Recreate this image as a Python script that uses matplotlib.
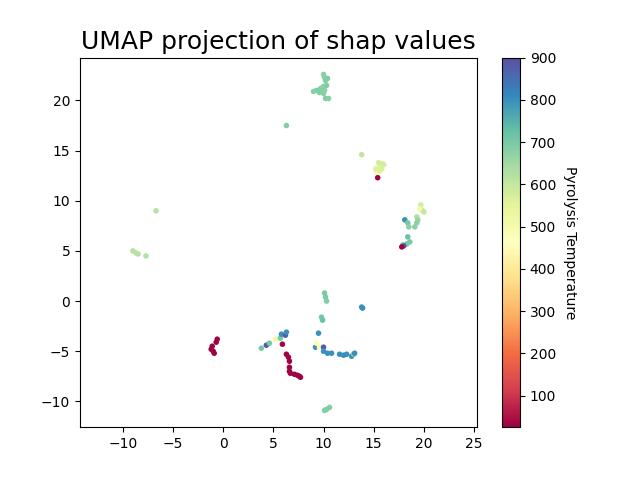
import matplotlib.pyplot as plt

# UMAP embedding coordinates and pyrolysis temperature per sample
umap_x = [
    10.0, 10.1, 10.2, 10.0, 9.7, 9.3, 9.0, 9.6, 10.0, 10.1, 10.3, 10.2, 10.5, 10.4,
    6.3, 13.8,
    15.3, 15.6, 15.9, 15.7, 15.4, 15.4, 15.5, 15.8, 15.2, 16.0, 15.6,
    19.7, 19.8, 19.6, 20.0, 19.3, 19.4, 19.3, 19.1, 18.1, 18.4, 18.5, 18.4, 18.6,
    18.3, 17.9, 18.0, 17.8,
    -6.7, -9.0, -8.7, -8.5, -7.7,
    10.1, 10.2, 10.3, 9.8, 9.9, 9.5,
    13.8, 13.9,
    -0.6, -0.7, -1.1, -1.2, -1.0, -0.9,
    6.3, 6.5, 6.6, 6.6, 6.6, 6.7, 7.1, 7.4, 7.6, 7.7, 5.9,
    3.8, 4.3, 4.6, 5.2, 5.7, 5.8, 6.2, 6.3,
    9.2, 9.3, 9.6, 10.0, 10.0, 10.4, 10.8, 11.6, 12.0, 12.3, 12.8, 13.0, 13.1,
    10.3, 10.6, 10.1,
]
umap_y = [
    22.6, 22.3, 22.0, 21.4, 21.2, 21.0, 20.9, 20.8, 20.7, 21.0, 21.5, 20.2, 20.2, 22.2,
    17.5, 14.6,
    13.0, 13.5, 13.7, 13.3, 12.7, 12.3, 13.8, 13.2, 13.2, 13.6, 13.0,
    9.6, 9.1, 9.2, 8.9, 8.4, 8.1, 7.8, 7.4, 8.1, 7.8, 7.4, 6.4, 5.9,
    5.7, 5.6, 5.5, 5.4,
    9.0, 5.0, 4.8, 4.7, 4.5,
    0.8, 0.4, 0.0, -1.6, -1.9, -3.2,
    -0.6, -0.7,
    -3.8, -4.1, -4.5, -4.8, -5.0, -5.2,
    -5.3, -5.6, -6.0, -6.6, -7.0, -7.2, -7.3, -7.4, -7.5, -7.6, -4.3,
    -4.7, -4.4, -4.2, -3.8, -3.7, -3.3, -3.4, -3.1,
    -4.6, -4.2, -4.6, -4.6, -5.0, -5.2, -5.2, -5.3, -5.4, -5.3, -5.5, -5.3, -5.2,
    -10.8, -10.6, -10.9,
]
temperature = [
    680, 680, 690, 680, 680, 690, 680, 690, 680, 680, 690, 690, 680, 690,
    690, 600,
    570, 560, 570, 550, 480, 30, 580, 570, 560, 580, 560,
    580, 590, 520, 600, 620, 660, 680, 680, 800, 700, 680, 720, 700,
    700, 700, 880, 30,
    620, 620, 610, 620, 620,
    700, 700, 690, 700, 720, 800,
    800, 800,
    30, 30, 30, 30, 30, 30,
    30, 30, 30, 30, 30, 30, 30, 30, 30, 30, 30,
    700, 880, 700, 520, 700, 800, 880, 800,
    800, 480, 450, 880, 800, 800, 800, 800, 800, 800, 800, 700, 800,
    690, 690, 690,
]

plt.figure(figsize=(6.4, 4.8), dpi=100)
plt.scatter(umap_x, umap_y, c=temperature, cmap='Spectral', s=16, linewidths=0,
            vmin=25, vmax=900)
plt.gca().set_aspect('equal', 'datalim')
cbar = plt.colorbar()
cbar.set_label('Pyrolysis Temperature', rotation=270, labelpad=15)
plt.title('UMAP projection of shap values', fontsize=18)
plt.savefig('out.png')
